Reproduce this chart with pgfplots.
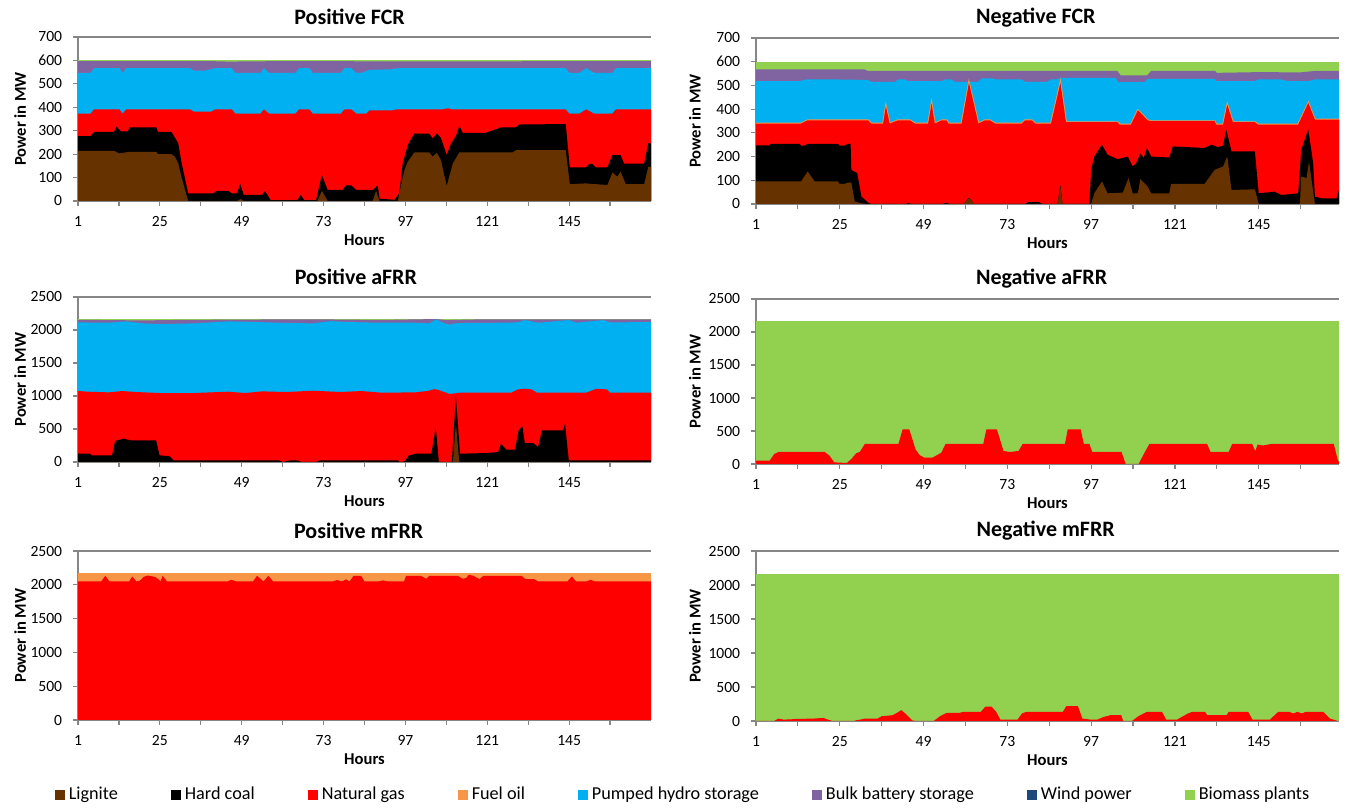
\documentclass[border=0pt]{standalone}
\usepackage{fontspec}
\setmainfont{Carlito}
\usepackage{pgfplots}
\usepackage{pgfplotstable}
\pgfplotsset{compat=1.18}

\definecolor{lignite}{RGB}{102,51,0}
\definecolor{coal}{RGB}{0,0,0}
\definecolor{gas}{RGB}{255,0,0}
\definecolor{oil}{RGB}{247,150,70}
\definecolor{hydro}{RGB}{0,176,240}
\definecolor{batt}{RGB}{128,100,162}
\definecolor{wind}{RGB}{31,73,125}
\definecolor{bio}{RGB}{146,208,80}
\definecolor{axgray}{RGB}{134,134,134}

\newcommand\ticksize{\fontsize{7.8}{9}\selectfont}
\newcommand\labelsize{\fontsize{8.3}{10}\selectfont}
\newcommand\titlesize{\fontsize{11}{13}\selectfont}
\newcommand\legsize{\fontsize{9.1}{10}\selectfont}
\newcommand\legsq[1]{\addlegendimage{legend image code/.code={\fill[#1] (0pt,-2.3pt) rectangle (4.6pt,2.3pt);}}}

\pgfplotsset{
 panel/.style={
  scale only axis, ymin=0, xmin=1,
  axis x line=bottom, axis y line=left,
  axis line style={draw=axgray, line width=0.6pt, -},
  xtick={1,25,...,145}, minor xtick={13,37,...,157},
  tick align=outside,
  major tick length=2.4pt, minor tick length=2.4pt,
  tick style={draw=axgray, line width=0.6pt},
  tick label style={font=\ticksize},
  yticklabel style={xshift=-2pt},
  xticklabel style={yshift=-2pt},
  xlabel={Hours}, ylabel={Power in MW},
  every axis x label/.style={at={(axis description cs:0.5,0)}, anchor=center, yshift=-19.5pt, font=\labelsize\bfseries},
  title style={font=\titlesize\bfseries, anchor=center},
  scaled y ticks=false,
  /pgf/number format/1000 sep={},
  /pgf/number format/assume math mode=true,
  extra y tick labels={},
  extra y tick style={grid=major, major grid style={draw=axgray, line width=0.6pt}},
 },
 ylab/.style={every axis y label/.style={at={(axis description cs:#1,0.5)}, rotate=90, anchor=center, font=\labelsize\bfseries}},
 ttl/.style={title style={at={(axis description cs:#1,1)}, yshift=4pt}},
 ar/.style={fill=#1, draw=none},
}

% Negative FCR natural gas upper boundary (MW, cumulative)
\pgfplotstableread{
h v
1 339
13.9 339
15.8 353
33.1 353
34 339
37.4 339
38.2 412
39.3 339
41.7 353
45.1 353
46.5 339
50.3 339
51.3 424
52.2 339
54.2 353
55.6 353
56.1 339
59.9 339
62 511
64.7 339
66.6 353
68 353
69.5 339
77.1 339
78.1 353
80 353
81 339
85.5 339
88.2 511
89.8 345
104.6 345
105.1 335
108.4 335
110.4 395
113.2 353
114.2 349
132.4 349
132.8 335
134.8 335
136 419
137.6 345
143.9 345
144.8 335
156.3 335
159.2 426
161.1 356
168 356
}\nfcrgas

\begin{document}
\begin{tikzpicture}
\useasboundingbox (0,0) rectangle (673pt,404pt);

% ---------------- Positive FCR ----------------
\begin{axis}[panel, ylab=-0.101, ttl=0.474, title={Positive FCR},
  at={(39pt,303.5pt)}, anchor=south west, width=286.5pt, height=82pt,
  xmax=169, ymax=700, ytick={0,100,...,700}, extra y ticks={700}]
\addplot[ar=bio] coordinates {(1,600)(169,600)} \closedcycle;
\addplot[ar=batt] coordinates {(1,597)(40,597)(45,595)(60,597)(100,596)(169,597)} \closedcycle;
\addplot[ar=hydro] coordinates {(1,547)(4.7,547)(5.7,567)(13.1,567)(14.1,547)(15.1,567)(33.8,567)(35,556)(38.2,556)(41.2,567)(46.1,567)(47.1,547)(54.5,547)(55.5,567)(57,547)(64.8,547)(65.8,567)(68.8,567)(69.8,547)(78.1,547)(79.1,567)(81.1,567)(82.6,547)(84,547)(86.5,560)(93,562)(95,567)(144,567)(145,547)(148,547)(150,567)(152.3,547)(157.7,547)(158.7,567)(169,567)} \closedcycle;
\addplot[ar=gas] coordinates {(1,373)(4.7,373)(5.7,391)(13.1,391)(14.1,373)(15.1,391)(33.8,391)(35,381)(40,381)(41.2,391)(46.1,391)(47.1,373)(54.5,373)(55.5,391)(57,373)(64.8,373)(65.8,391)(68.8,391)(69.8,373)(78.1,373)(79.1,391)(81.1,391)(82.6,373)(85.5,373)(86.5,387)(93.3,387)(94.5,391)(108,391)(109.5,396)(110.5,391)(144,391)(145,373)(148,373)(150,391)(152.3,373)(157.7,373)(158.7,391)(169,391)} \closedcycle;
\addplot[ar=coal] coordinates {(1,277)(4.7,277)(5.7,295)(11.6,295)(12.3,317)(13.6,297)(15.6,297)(16.1,314)(24,314)(24.4,295)(28.4,295)(30.4,246)(31.3,168)(33.3,33)(40.7,33)(41.7,43)(45.1,43)(46.1,33)(47.6,33)(48.6,72)(49.6,26)(55,26)(55.8,43)(57.5,4)(65.3,4)(66.3,26)(67.3,4)(70.8,4)(72.5,111)(74.2,47)(78.6,47)(79.6,67)(81.1,67)(82.6,47)(87.4,47)(88.9,67)(89.4,10)(93.8,5)(95.2,33)(96.2,160)(97.7,239)(99.6,288)(104,288)(105,267)(106.2,288)(107.4,270)(109.1,196)(110.4,246)(111.8,277)(112.8,321)(113.8,291)(120.6,291)(125,314)(129.4,314)(130.4,327)(144,328)(145.2,143)(149.9,143)(150.9,158)(151.8,158)(152.8,143)(156.2,143)(157.7,196)(160.1,196)(161.1,160)(167,160)(168.2,246)(169,246)} \closedcycle;
\addplot[ar=lignite] coordinates {(1,214)(11.6,214)(13.1,203)(16.1,210)(24,210)(24.4,200)(28.4,200)(29.4,189)(30.4,160)(31.3,104)(33.3,0)(47.6,0)(48.6,8)(49.6,0)(71.2,0)(72.5,43)(74.2,0)(87.4,0)(88.4,43)(89.4,0)(94.8,0)(95.2,33)(96.7,132)(97.7,168)(99.6,207)(104,207)(105,189)(106.2,206)(107.4,175)(109.1,64)(110.9,160)(112.8,207)(128.4,207)(129.4,217)(144,217)(145.2,72)(149.9,75)(156.2,68)(157.7,121)(159.1,104)(160.1,125)(161.6,72)(167,72)(168.2,146)(169,146)} \closedcycle;
\end{axis}

% ---------------- Negative FCR ----------------
\begin{axis}[panel, ylab=-0.105, ttl=0.48, title={Negative FCR},
  at={(378pt,302pt)}, anchor=south west, width=291.5pt, height=83pt,
  xmax=168, ymax=700, ytick={0,100,...,700}, extra y ticks={700}]
\addplot[ar=bio] coordinates {(1,600)(168,600)} \closedcycle;
\addplot[ar=batt] coordinates {(1,568)(32,568)(33,561)(104.5,561)(105.5,542)(113,542)(114.2,561)(132.5,561)(133,553)(144.8,556)(157,555)(161,561)(168,561)} \closedcycle;
\addplot[ar=hydro] coordinates {(1,518)(13.5,518)(15.4,525)(24.5,525)(33.1,523)(34,515)(40.8,515)(41.7,525)(43.6,525)(44.6,518)(54.2,518)(55.1,525)(57,525)(58,515)(64.7,515)(65.7,530)(68.5,530)(69.9,525)(77.1,525)(78.1,515)(84.3,515)(85.5,525)(87,525)(88.3,532)(104.1,532)(104.6,514)(112.3,514)(113.2,528)(132.4,528)(132.8,518)(143.9,518)(144.8,525)(151.5,525)(153.4,518)(159.2,518)(161.1,525)(168,525)} \closedcycle;
\addplot[oil, line width=0.9pt] table {\nfcrgas};
\addplot[ar=gas] table {\nfcrgas} \closedcycle;
\addplot[ar=coal] coordinates {(1,247)(4.8,247)(5.3,254)(13.5,254)(13.9,246)(14.9,246)(15.8,254)(24.5,254)(24.9,246)(26.4,246)(27.3,254)(28.1,254)(28.3,144)(30,130)(31.2,31)(33.1,6)(34,0)(44,0)(44.6,5)(45.5,0)(54.5,0)(55.5,5)(56.5,0)(60.5,0)(62,26)(63.5,0)(78,0)(79,8)(82,8)(83,0)(87.4,0)(88.2,80)(88.8,0)(96.5,0)(97,144)(97.9,200)(100.1,250)(101.7,208)(104.6,189)(107.5,200)(108.9,158)(109.9,172)(111.1,212)(112.1,194)(113,236)(114.2,200)(119.4,196)(120.4,243)(129.5,236)(131.4,250)(133.3,240)(134.8,246)(135.7,314)(137.2,222)(143.9,222)(145,45)(149.6,52)(151.5,38)(156.3,45)(157.2,229)(159.2,314)(160.6,172)(161.1,31)(163,24)(167.3,24)(168,59)} \closedcycle;
\addplot[ar=lignite] coordinates {(1,95)(13.9,95)(15.8,137)(17.8,95)(24.5,95)(24.9,85)(26.4,85)(27.3,90)(28.3,90)(29.3,10)(31.2,3)(33,0)(60.5,0)(62,24)(63.5,0)(87.4,0)(88.2,73)(88.8,0)(97,0)(97.9,45)(100.1,95)(101.7,45)(106.1,48)(107.7,109)(108.9,45)(110.4,45)(111.1,105)(113.2,73)(114.2,45)(119.4,45)(119.9,85)(129.5,85)(132.4,144)(134.8,158)(136,200)(137.2,59)(143.9,62)(145,0)(156.8,0)(157.2,116)(158.7,109)(159.4,179)(161.1,0)(168,0)} \closedcycle;
\end{axis}

% ---------------- Positive aFRR ----------------
\begin{axis}[panel, ylab=-0.101, ttl=0.485, title={Positive aFRR},
  at={(39pt,173pt)}, anchor=south west, width=286.5pt, height=82.5pt,
  xmax=169, ymax=2500, ytick={0,500,...,2500}, extra y ticks={2500}]
\addplot[ar=bio] coordinates {(1,2170)(169,2170)} \closedcycle;
\addplot[ar=batt] coordinates {(1,2155)(20,2145)(30,2152)(50,2158)(70,2162)(90,2152)(106,2166)(109,2150)(120,2162)(169,2162)} \closedcycle;
\addplot[ar=hydro] coordinates {(1,2115)(10,2110)(15,2130)(20,2100)(25,2090)(35,2100)(45,2130)(50,2125)(60,2110)(70,2100)(75,2135)(80,2120)(90,2110)(100,2110)(104,2100)(106,2160)(108,2110)(110,2080)(112,2105)(125,2110)(130,2115)(132,2150)(136,2110)(145,2150)(147,2110)(155,2150)(157,2115)(169,2120)} \closedcycle;
\addplot[ar=gas] coordinates {(1,1075)(4,1065)(10,1055)(14,1075)(18,1060)(25,1045)(35,1045)(45,1065)(50,1045)(55,1070)(62,1060)(70,1080)(78,1060)(84,1075)(90,1050)(100,1055)(104,1080)(105.5,1105)(107,1085)(110,1030)(113,1050)(128,1050)(130,1100)(132,1110)(134,1100)(135.5,1050)(150,1050)(153,1110)(156,1100)(157,1050)(169,1050)} \closedcycle;
\addplot[ar=coal] coordinates {(1,126)(4.5,126)(5,101)(11,101)(11.9,318)(14.3,353)(16.5,328)(23.9,328)(24.9,101)(27.9,86)(29,25)(60,25)(61.1,0)(63.2,25)(65.4,25)(66.5,0)(70.9,0)(71.9,25)(94.8,25)(95.3,0)(96.2,0)(97,25)(98.1,101)(100.2,126)(104.6,126)(105.9,529)(106.8,0)(110.6,0)(111.8,1000)(113,126)(120.9,136)(124.2,151)(125,277)(126.6,186)(129.1,186)(130.2,479)(131.3,539)(132,287)(134.5,287)(135.9,227)(137,479)(143.2,479)(143.8,580)(144.9,25)(169,25)} \closedcycle;
\addplot[ar=lignite] coordinates {(1,0)(110.9,0)(111.8,580)(112.8,0)(169,0)} \closedcycle;
\end{axis}

% ---------------- Negative aFRR ----------------
\begin{axis}[panel, ylab=-0.105, ttl=0.49, title={Negative aFRR},
  at={(378pt,172pt)}, anchor=south west, width=291.5pt, height=82.5pt,
  xmax=168, ymax=2500, ytick={0,500,...,2500}, extra y ticks={2500}]
\addplot[ar=bio] coordinates {(1,2160)(168,2160)} \closedcycle;
\addplot[ar=gas] coordinates {(1,50)(4.9,50)(6.2,150)(7.4,182)(20.7,182)(22.1,123)(23.4,25)(27,15)(28.3,75)(29.7,163)(30.7,182)(32.2,305)(41.8,305)(43,525)(44.9,525)(46.7,221)(47.9,133)(49.2,98)(51.6,98)(54.1,172)(55.3,305)(66.1,305)(67,525)(70,525)(71.9,197)(73.7,182)(76.2,197)(77.4,305)(89.5,305)(90.3,525)(94,525)(94.9,305)(96.5,305)(97.3,182)(105.7,182)(106.9,0)(110.6,0)(112.4,182)(113.7,305)(130.2,305)(131.2,182)(136.4,182)(137.4,305)(143.1,305)(144,197)(144.7,295)(146.2,280)(148.7,305)(166.5,305)(167.7,50)(168,40)} \closedcycle;
\end{axis}

% ---------------- Positive mFRR ----------------
\begin{axis}[panel, ylab=-0.101, ttl=0.49, title={Positive mFRR},
  at={(39pt,44pt)}, anchor=south west, width=286.5pt, height=84.5pt,
  xmax=169, ymax=2500, ytick={0,500,...,2500}, extra y ticks={2500}]
\addplot[ar=oil] coordinates {(1,2172)(169,2172)} \closedcycle;
\addplot[ar=gas] coordinates {(1,2050)(7.8,2050)(9,2133)(10.2,2050)(16,2050)(16.9,2123)(18.1,2050)(19.1,2060)(20.3,2118)(21.5,2137)(23.4,2118)(24.2,2098)(25.2,2050)(25.8,2133)(27.1,2050)(44.9,2050)(45.9,2075)(47.4,2050)(52.3,2050)(53.5,2133)(55.4,2050)(56.8,2133)(58.2,2050)(75.7,2050)(76.9,2070)(78.4,2050)(79.6,2080)(80.6,2050)(81.8,2133)(84,2133)(85,2050)(89.2,2050)(90.4,2065)(91.7,2050)(96.6,2050)(97.2,2133)(101.5,2133)(103.1,2089)(104,2133)(112.3,2133)(113.8,2089)(114.8,2100)(115.6,2148)(116.9,2133)(118.7,2084)(119.9,2133)(131,2133)(132.2,2084)(134.7,2084)(135.9,2050)(144.5,2050)(145.8,2123)(147,2050)(150.1,2050)(151.3,2075)(152.5,2050)(169,2050)} \closedcycle;
\end{axis}

% ---------------- Negative mFRR ----------------
\begin{axis}[panel, ylab=-0.105, ttl=0.497, title={Negative mFRR},
  at={(378pt,43.5pt)}, anchor=south west, width=291.5pt, height=85pt,
  xmax=168, ymax=2500, ytick={0,500,...,2500}, extra y ticks={2500}]
\addplot[ar=bio] coordinates {(1,2160)(168,2160)} \closedcycle;
\addplot[ar=gas] coordinates {(1,0)(6.2,0)(7.4,35)(8.9,20)(11.1,25)(12.4,30)(17.3,35)(20.4,45)(21,30)(22.9,0)(29,0)(29.6,10)(30.9,20)(32.1,35)(35.8,35)(37,70)(40.1,85)(41.4,120)(42.6,160)(43.8,110)(45.7,10)(46.9,0)(51.9,0)(53.7,70)(55.6,120)(59.3,120)(60.5,135)(65.4,135)(66.7,210)(68.5,210)(69.8,135)(71,20)(75.9,20)(77.2,110)(78.4,135)(88.9,135)(89.9,220)(93.2,220)(94.5,35)(96.9,20)(98.8,20)(100.6,60)(102.5,85)(105.6,85)(106.2,0)(108.7,0)(110.5,70)(113,135)(117.3,135)(118.5,20)(121.6,20)(124.7,110)(126,135)(129.6,135)(130.3,85)(135.8,85)(136.4,135)(142,135)(143.2,20)(148.2,20)(150.6,135)(153.7,135)(154.9,110)(156.1,135)(157.3,110)(158.5,135)(163.5,135)(165.4,35)(167.7,0)(168,0)} \closedcycle;
\end{axis}

% ---------------- Legend ----------------
\begin{axis}[hide axis, scale only axis, width=10pt, height=5pt,
  xmin=0, xmax=1, ymin=0, ymax=1,
  at={(342pt,6.5pt)}, anchor=center,
  legend columns=8,
  legend style={at={(0.5,0.5)}, anchor=center, draw=none, fill=none,
    font=\legsize, inner sep=0pt,
    /tikz/every even column/.append style={column sep=24.5pt}}]
\legsq{lignite}\addlegendentry{Lignite}
\legsq{coal}\addlegendentry{Hard coal}
\legsq{gas}\addlegendentry{Natural gas}
\legsq{oil}\addlegendentry{Fuel oil}
\legsq{hydro}\addlegendentry{Pumped hydro storage}
\legsq{batt}\addlegendentry{Bulk battery storage}
\legsq{wind}\addlegendentry{Wind power}
\legsq{bio}\addlegendentry{Biomass plants}
\end{axis}
\end{tikzpicture}
\end{document}
